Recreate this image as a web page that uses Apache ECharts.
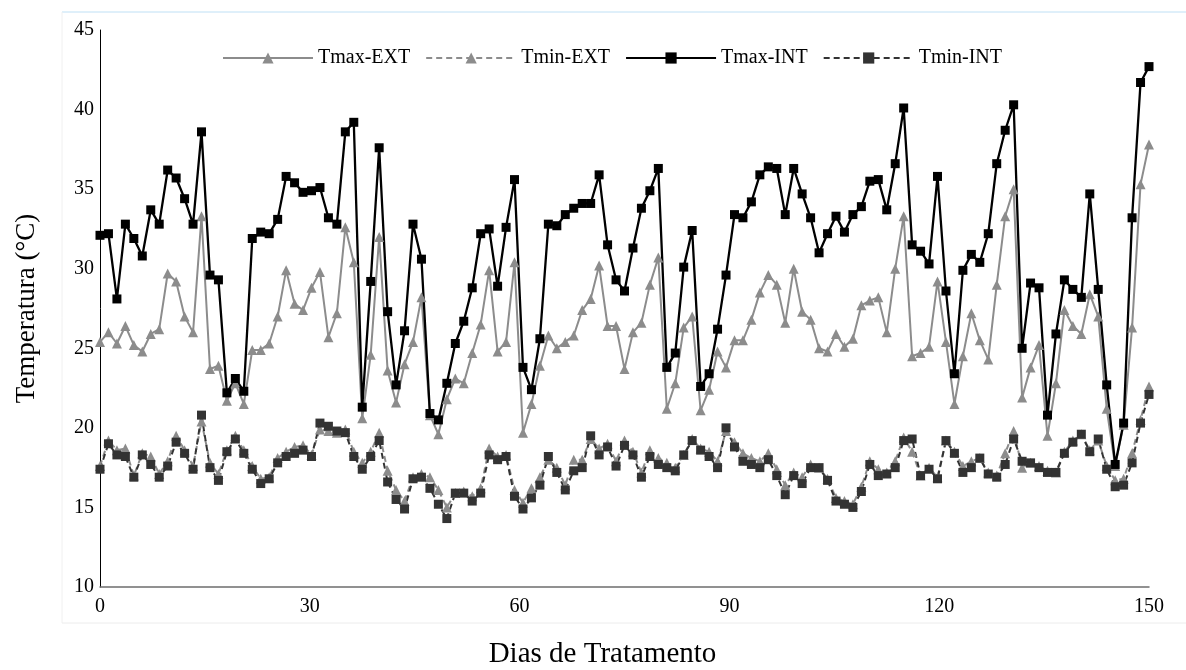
<!DOCTYPE html>
<html>
<head>
<meta charset="utf-8">
<script src="https://cdn.jsdelivr.net/npm/echarts@6/dist/echarts.min.js"></script>
<style>
  html, body { margin: 0; padding: 0; background: #fff; }
  #chart { width: 1186px; height: 670px; }
</style>
</head>
<body>
<div id="chart"></div>
<script>
// Daily temperature readings over the 150-day treatment (125 readings, evenly spaced)
const seriesNames = ['Tmax-EXT', 'Tmin-EXT', 'Tmax-INT', 'Tmin-INT'];
const xTicks = [0, 30, 60, 90, 120, 150];
const yTicks = [10, 15, 20, 25, 30, 35, 40, 45];

const tmaxExt = [
  25.4, 26.0, 25.3, 26.4, 25.2, 24.8, 25.9, 26.2, 29.7, 29.2,
  27.0, 26.0, 33.3, 23.7, 23.9, 21.7, 22.8, 21.5, 24.9, 24.9,
  25.3, 27.0, 29.9, 27.8, 27.4, 28.8, 29.8, 25.7, 27.2, 32.6,
  30.4, 20.6, 24.6, 32.0, 23.6, 21.6, 24.0, 25.4, 28.2, 20.8,
  19.6, 21.8, 23.1, 22.8, 24.7, 26.5, 29.9, 24.8, 25.4, 30.4,
  19.7, 21.5, 23.9, 25.8, 25.0, 25.4, 25.8, 27.4, 28.1, 30.2,
  26.4, 26.4, 23.7, 26.0, 26.6, 29.0, 30.7, 21.2, 22.8, 26.3,
  27.0, 21.1, 22.4, 24.8, 23.8, 25.5, 25.5, 26.8, 28.5, 29.6,
  29.0, 26.6, 30.0, 27.3, 26.8, 25.0, 24.8, 25.9, 25.1, 25.6,
  27.7, 28.0, 28.2, 26.0, 30.0, 33.3, 24.5, 24.7, 25.1, 29.2,
  25.4, 21.5, 24.5, 27.2, 25.5, 24.3, 29.0, 33.3, 35.0, 21.9,
  23.8, 25.2, 19.5, 22.8, 27.4, 26.4, 25.9, 28.4, 27.0, 21.2,
  17.6, 20.2, 26.3, 35.3, 37.8
];
const tminExt = [
  17.6, 19.2, 18.6, 18.7, 17.0, 18.4, 18.2, 17.1, 17.9, 19.5,
  18.6, 17.6, 20.4, 17.8, 17.1, 18.6, 19.5, 18.6, 17.6, 16.8,
  16.9, 18.1, 18.5, 18.8, 18.9, 18.3, 19.9, 19.8, 19.7, 19.9,
  18.5, 17.8, 18.5, 19.7, 17.3, 16.1, 15.4, 16.9, 17.1, 16.9,
  16.1, 15.0, 15.9, 16.0, 15.7, 16.2, 18.7, 18.2, 18.3, 16.1,
  15.3, 16.2, 16.9, 18.0, 17.5, 16.4, 18.0, 18.0, 19.3, 18.7,
  19.0, 17.9, 19.2, 18.5, 17.2, 18.6, 18.1, 17.8, 17.5, 18.3,
  19.3, 18.7, 18.5, 17.9, 19.8, 19.1, 18.4, 18.1, 17.9, 18.4,
  17.4, 16.4, 17.2, 16.9, 17.7, 17.5, 16.8, 15.6, 15.4, 15.2,
  16.3, 17.9, 17.4, 17.2, 17.9, 19.4, 18.5, 17.0, 17.5, 16.9,
  19.2, 18.5, 17.6, 17.9, 18.1, 17.2, 17.0, 18.4, 19.8, 17.5,
  17.8, 17.6, 17.3, 17.2, 18.5, 19.2, 19.6, 18.6, 19.2, 17.6,
  16.7, 16.8, 18.4, 20.5, 22.6
];
const tmaxInt = [
  32.1, 32.2, 28.1, 32.8, 31.9, 30.8, 33.7, 32.8, 36.2, 35.7,
  34.4, 32.8, 38.6, 29.6, 29.3, 22.2, 23.1, 22.3, 31.9, 32.3,
  32.2, 33.1, 35.8, 35.4, 34.8, 34.9, 35.1, 33.2, 32.8, 38.6,
  39.2, 21.3, 29.2, 37.6, 27.3, 22.7, 26.1, 32.8, 30.6, 20.9,
  20.5, 22.8, 25.3, 26.7, 28.8, 32.2, 32.5, 28.9, 32.6, 35.6,
  23.8, 22.4, 25.6, 32.8, 32.7, 33.4, 33.8, 34.1, 34.1, 35.9,
  31.5, 29.3, 28.6, 31.3, 33.8, 34.9, 36.3, 23.8, 24.7, 30.1,
  32.4, 22.6, 23.4, 26.2, 29.6, 33.4, 33.2, 34.2, 35.9, 36.4,
  36.3, 33.4, 36.3, 34.7, 33.2, 31.0, 32.2, 33.3, 32.3, 33.4,
  33.9, 35.5, 35.6, 33.7, 36.6, 40.1, 31.5, 31.1, 30.3, 35.8,
  28.6, 23.4, 29.9, 30.9, 30.4, 32.2, 36.6, 38.7, 40.3, 25.0,
  29.1, 28.8, 20.8, 25.9, 29.3, 28.7, 28.2, 34.7, 28.7, 22.7,
  17.7, 20.3, 33.2, 41.7, 42.7
];
const tminInt = [
  17.4, 19.0, 18.3, 18.2, 16.9, 18.3, 17.7, 16.9, 17.6, 19.1,
  18.4, 17.4, 20.8, 17.5, 16.7, 18.5, 19.3, 18.4, 17.4, 16.5,
  16.8, 17.8, 18.2, 18.4, 18.6, 18.2, 20.3, 20.1, 19.8, 19.7,
  18.2, 17.4, 18.2, 19.2, 16.6, 15.5, 14.9, 16.8, 16.9, 16.2,
  15.2, 14.3, 15.9, 15.9, 15.4, 15.9, 18.3, 18.0, 18.2, 15.7,
  14.9, 15.6, 16.4, 18.2, 17.2, 16.1, 17.3, 17.5, 19.5, 18.3,
  18.8, 17.6, 18.9, 18.3, 16.9, 18.2, 17.7, 17.5, 17.3, 18.3,
  19.2, 18.6, 18.2, 17.5, 20.0, 18.8, 17.9, 17.7, 17.5, 18.0,
  17.0, 15.8, 17.0, 16.5, 17.5, 17.5, 16.7, 15.4, 15.2, 15.0,
  16.0, 17.7, 17.0, 17.1, 17.5, 19.2, 19.3, 17.0, 17.4, 16.8,
  19.2, 18.4, 17.2, 17.5, 18.1, 17.1, 16.9, 17.7, 19.3, 17.9,
  17.8, 17.5, 17.2, 17.2, 18.4, 19.1, 19.6, 18.5, 19.3, 17.4,
  16.3, 16.4, 17.8, 20.3, 22.1
];

// readings are evenly spread from day 0 to day 150
const lastDay = 150;
const step = lastDay / (tmaxInt.length - 1);
const pair = vals => vals.map((v, i) => [i * step, v]);

const FONT = '"Liberation Serif", "DejaVu Serif", serif';

const chart = echarts.init(document.getElementById('chart'), null, { renderer: 'canvas' });

function lineSeries(name, vals, color, dashed, symbol, size, width) {
  return {
    name: name,
    type: 'line',
    data: pair(vals),
    symbol: symbol,
    symbolSize: size,
    showSymbol: true,
    animation: false,
    lineStyle: { color: color, width: width, type: dashed ? [6, 4] : 'solid' },
    itemStyle: { color: color, borderWidth: 0 },
    emphasis: { disabled: true }
  };
}

chart.setOption({
  backgroundColor: '#ffffff',
  animation: false,
  grid: { left: 100, right: 37, top: 30, bottom: 83, containLabel: false, outerBoundsMode: 'none' },
  legend: {
    left: 217,
    top: 43,
    itemWidth: 90,
    itemHeight: 14,
    itemGap: 15,
    data: seriesNames,
    textStyle: { fontFamily: FONT, fontSize: 20, color: '#000' }
  },
  xAxis: {
    type: 'value',
    min: xTicks[0],
    max: xTicks[xTicks.length - 1],
    interval: 30,
    name: 'Dias de Tratamento',
    nameLocation: 'middle',
    nameGap: 53,
    nameTextStyle: { fontFamily: FONT, fontSize: 29, color: '#000', padding: [0, 44, 0, 0] },
    axisLine: { lineStyle: { color: '#6e6e6e', width: 1.5 } },
    axisTick: { show: false },
    splitLine: { show: false },
    axisLabel: { fontFamily: FONT, fontSize: 20, color: '#000', margin: 10 }
  },
  yAxis: {
    type: 'value',
    min: yTicks[0],
    max: yTicks[yTicks.length - 1],
    interval: 5,
    name: 'Temperatura (°C)',
    nameLocation: 'middle',
    nameGap: 60,
    nameTextStyle: { fontFamily: FONT, fontSize: 27, color: '#000' },
    axisLine: { show: true, lineStyle: { color: '#000', width: 1 } },
    axisTick: { show: false },
    splitLine: { show: false },
    axisLabel: { fontFamily: FONT, fontSize: 20, color: '#000', margin: 6 }
  },
  graphic: [
    { type: 'line', shape: { x1: 62, y1: 12, x2: 1186, y2: 12 },
      style: { stroke: '#bfe0f5', lineWidth: 1 }, silent: true },
    { type: 'line', shape: { x1: 62, y1: 12, x2: 62, y2: 623 },
      style: { stroke: '#f0f0f0', lineWidth: 1 }, silent: true },
    { type: 'line', shape: { x1: 62, y1: 623, x2: 1186, y2: 623 },
      style: { stroke: '#ececec', lineWidth: 1 }, silent: true }
  ],
  series: [
    lineSeries('Tmax-EXT', tmaxExt, '#8c8c8c', false, 'triangle', 10, 2),
    lineSeries('Tmin-EXT', tminExt, '#8c8c8c', true, 'triangle', 10, 2),
    lineSeries('Tmax-INT', tmaxInt, '#000000', false, 'rect', 9, 2.3),
    lineSeries('Tmin-INT', tminInt, '#333333', true, 'rect', 9, 2)
  ]
});
</script>
</body>
</html>
